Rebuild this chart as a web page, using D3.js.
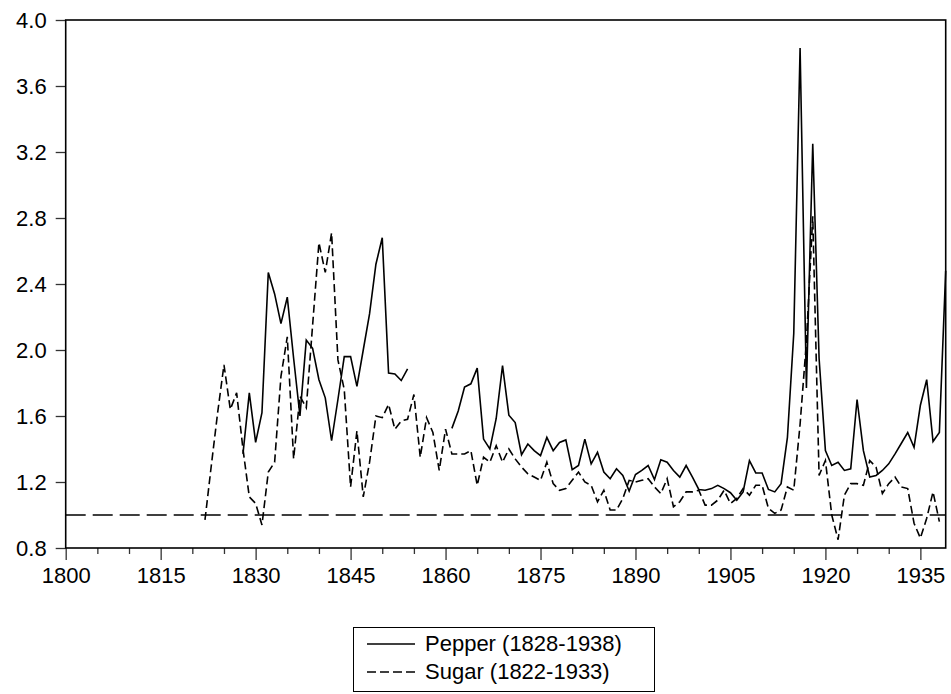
<!DOCTYPE html>
<html>
<head>
<meta charset="utf-8">
<script src="https://cdn.jsdelivr.net/npm/d3@7"></script>
<style>
  body { margin: 0; background: #fff; }
  svg { display: block; font-family: "Liberation Sans", Arial, sans-serif; }
</style>
</head>
<body>
<div id="chart"></div>
<script>
var width = 951;
var height = 694;

// pepper: 1828..1939, null = no observation (1855-1860)
var pepperStart = 1828;
var pepperValues = [
  1.37, 1.74, 1.44, 1.62, 2.47, 2.34, 2.16, 2.32, 1.95, 1.60,   // 1828-1837
  2.06, 2.01, 1.82, 1.71, 1.45, 1.70, 1.96, 1.96, 1.78, 2.00,   // 1838-1847
  2.22, 2.52, 2.68, 1.86, 1.855, 1.815, 1.885,                  // 1848-1854
  null, null, null, null, null, null,                           // 1855-1860
  1.525, 1.63, 1.775, 1.795, 1.89, 1.46, 1.40, 1.585, 1.905,    // 1861-1869
  1.605, 1.56, 1.365, 1.43, 1.39, 1.36, 1.47, 1.39, 1.44, 1.455, // 1870-1879
  1.275, 1.30, 1.46, 1.31, 1.38, 1.26, 1.22, 1.28, 1.24, 1.145, // 1880-1889
  1.245, 1.27, 1.30, 1.215, 1.335, 1.32, 1.27, 1.23, 1.30, 1.23, // 1890-1899
  1.155, 1.15, 1.16, 1.18, 1.16, 1.135, 1.09, 1.14, 1.33, 1.255, // 1900-1909
  1.255, 1.155, 1.14, 1.19, 1.47, 2.10, 3.83, 1.77, 3.25, 1.95, // 1910-1919
  1.39, 1.30, 1.32, 1.27, 1.28, 1.70, 1.39, 1.23, 1.24, 1.27,   // 1920-1929
  1.31, 1.37, 1.435, 1.50, 1.41, 1.665, 1.82, 1.445, 1.50, 2.48 // 1930-1939
];

// sugar: 1822..1938
var sugarStart = 1822;
var sugarValues = [
  0.97, 1.30, 1.62, 1.91, 1.64, 1.74, 1.40, 1.11,               // 1822-1829
  1.07, 0.94, 1.26, 1.32, 1.84, 2.08, 1.34, 1.72, 1.65, 2.15,   // 1830-1839
  2.65, 2.47, 2.71, 1.94, 1.76, 1.17, 1.51, 1.11, 1.32, 1.60,   // 1840-1849
  1.59, 1.67, 1.52, 1.57, 1.58, 1.73, 1.35, 1.59, 1.50, 1.27,   // 1850-1859
  1.52, 1.37, 1.37, 1.37, 1.39, 1.18, 1.35, 1.32, 1.42, 1.32,   // 1860-1869
  1.40, 1.34, 1.29, 1.25, 1.23, 1.21, 1.32, 1.19, 1.15, 1.16,   // 1870-1879
  1.21, 1.26, 1.20, 1.18, 1.08, 1.15, 1.03, 1.03, 1.10, 1.21,   // 1880-1889
  1.20, 1.21, 1.22, 1.17, 1.13, 1.22, 1.05, 1.08, 1.14, 1.14,   // 1890-1899
  1.15, 1.06, 1.06, 1.09, 1.15, 1.07, 1.10, 1.16, 1.12, 1.18,   // 1900-1909
  1.18, 1.04, 1.01, 1.03, 1.17, 1.15, 1.55, 2.05, 2.81, 1.24,   // 1910-1919
  1.33, 1.00, 0.85, 1.12, 1.19, 1.19, 1.18, 1.33, 1.29, 1.13,   // 1920-1929
  1.19, 1.23, 1.17, 1.16, 0.95, 0.86, 0.98, 1.14, 0.96          // 1930-1938
];

var baseline = 1.0;
var yTicks = [0.8, 1.2, 1.6, 2.0, 2.4, 2.8, 3.2, 3.6, 4.0];
var xMajorTicks = [1800, 1815, 1830, 1845, 1860, 1875, 1890, 1905, 1920, 1935];
var xMinorTicks = [1805, 1810, 1820, 1825, 1835, 1840, 1850, 1855, 1865, 1870, 1880, 1885,
                   1895, 1900, 1910, 1915, 1925, 1930];
var legendLabels = ["Pepper (1828-1938)", "Sugar (1822-1933)"];

// plot box (note: "top" would clash with window.top)
var plotL = 65.7, plotR = 945.7, plotT = 20, plotB = 548;

var svg = d3.select("#chart").append("svg")
    .attr("width", width)
    .attr("height", height);

var x = d3.scaleLinear().domain([1800, 1939]).range([plotL, plotR]);
var y = d3.scaleLinear().domain([0.8, 4.0]).range([plotB, plotT]);

function toPoints(start, vals) {
  return vals.map(function(v, i) { return {year: start + i, value: v}; });
}
var pepper = toPoints(pepperStart, pepperValues);
var sugar = toPoints(sugarStart, sugarValues);

var line = d3.line()
    .defined(function(d) { return d.value != null; })
    .x(function(d) { return x(d.year); })
    .y(function(d) { return y(d.value); });

// axes
var yAxis = d3.axisLeft(y).tickValues(yTicks).tickFormat(d3.format(".1f"))
    .tickSize(10).tickPadding(9);
var gy = svg.append("g").attr("transform", "translate(" + plotL + ",0)").call(yAxis);

var xAxis = d3.axisBottom(x).tickValues(xMajorTicks).tickFormat(d3.format("d"))
    .tickSize(12).tickPadding(7);
var gx = svg.append("g").attr("transform", "translate(0," + plotB + ")").call(xAxis);

var xMinor = d3.axisBottom(x).tickValues(xMinorTicks).tickFormat("").tickSize(6);
var gxm = svg.append("g").attr("transform", "translate(0," + plotB + ")").call(xMinor);

[gy, gx, gxm].forEach(function(g) {
  g.select(".domain").remove();
  g.selectAll(".tick line").attr("stroke", "#333").attr("stroke-width", 1.3);
  g.selectAll(".tick text").attr("fill", "#000").style("font-size", "22px")
    .style("font-family", "'Liberation Sans', Arial, sans-serif");
});

// reference line at 1.0
svg.append("line")
    .attr("x1", plotL).attr("x2", plotR)
    .attr("y1", y(baseline)).attr("y2", y(baseline))
    .attr("stroke", "#000").attr("stroke-width", 1.6)
    .attr("stroke-dasharray", "20,7");

svg.append("path").datum(sugar)
    .attr("d", line)
    .attr("fill", "none").attr("stroke", "#000").attr("stroke-width", 1.6)
    .attr("stroke-dasharray", "8,4");

svg.append("path").datum(pepper)
    .attr("d", line)
    .attr("fill", "none").attr("stroke", "#000").attr("stroke-width", 1.6);

// frame
svg.append("rect")
    .attr("x", plotL).attr("y", plotT)
    .attr("width", plotR - plotL).attr("height", plotB - plotT)
    .attr("fill", "none").attr("stroke", "#000").attr("stroke-width", 1.6);

// legend
var lg = svg.append("g");
lg.append("rect")
    .attr("x", 353.5).attr("y", 627.5).attr("width", 301).attr("height", 64)
    .attr("fill", "#fff").attr("stroke", "#000").attr("stroke-width", 1);
var dashes = [null, "9,4"];
legendLabels.forEach(function(lab, i) {
  var by = 651 + i * 28;
  lg.append("line")
      .attr("x1", 367).attr("x2", 415).attr("y1", by - 7).attr("y2", by - 7)
      .attr("stroke", "#000").attr("stroke-width", 1.3)
      .attr("stroke-dasharray", dashes[i]);
  lg.append("text")
      .attr("x", 425).attr("y", by)
      .style("font-size", "22px").attr("fill", "#000")
      .text(lab);
});
</script>
</body>
</html>
